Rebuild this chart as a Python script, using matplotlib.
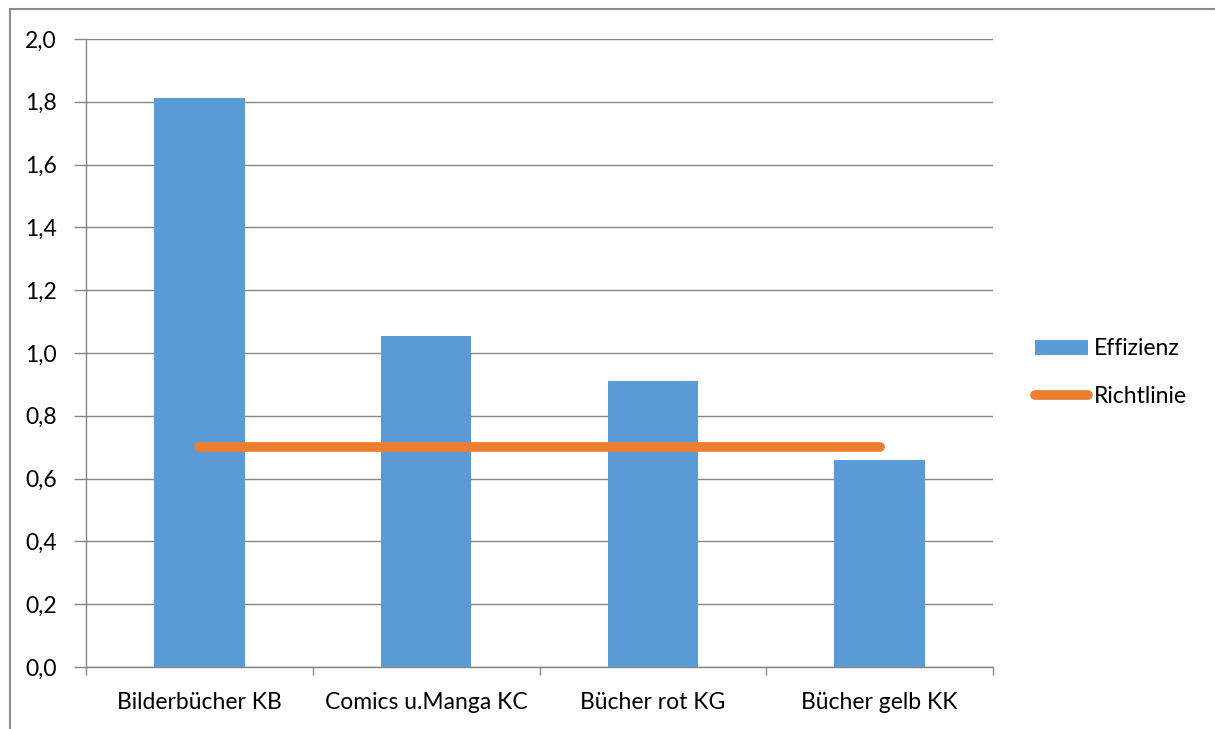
import matplotlib
matplotlib.use("Agg")
import matplotlib.pyplot as plt
from matplotlib.ticker import FuncFormatter, FixedLocator
from matplotlib.lines import Line2D

categories = ["Bilderbücher KB", "Comics u.Manga KC", "Bücher rot KG", "Bücher gelb KK"]
effizienz = [1.812, 1.054, 0.912, 0.659]
richtlinie = [0.70, 0.70, 0.70, 0.70]
y_ticks = [0.0, 0.2, 0.4, 0.6, 0.8, 1.0, 1.2, 1.4, 1.6, 1.8, 2.0]

plt.rcParams['font.family'] = ['Lato', 'DejaVu Sans']

W, H = 1215, 729
fig = plt.figure(figsize=(W / 100, H / 100), dpi=100)
ax = fig.add_axes([86 / W, (H - 667) / H, (993 - 86) / W, (667 - 39) / H])

grid_c = "#868686"
blue = "#5B9BD5"
orange = "#ED7D31"

x = list(range(len(categories)))
bars = ax.bar(x, effizienz, width=0.4, color=blue, label="Effizienz", zorder=3)
line, = ax.plot(x, richtlinie, color=orange, lw=7, solid_capstyle="round", label="Richtlinie", zorder=4)

ax.set_xlim(-0.5, len(categories) - 0.5)
ax.set_ylim(0, 2.0)
ax.yaxis.set_major_locator(FixedLocator(y_ticks))
ax.yaxis.set_major_formatter(FuncFormatter(lambda v, p: f"{v:.1f}".replace(".", ",")))
ax.grid(axis="y", color=grid_c, lw=1, zorder=0)
ax.tick_params(axis="y", length=9, color=grid_c, width=1, labelsize=16.5, pad=12, labelcolor="black")

ax.xaxis.set_major_locator(FixedLocator([i - 0.5 for i in range(len(categories) + 1)]))
ax.xaxis.set_major_formatter(FuncFormatter(lambda v, p: ""))
ax.xaxis.set_minor_locator(FixedLocator(x))
ax.set_xticklabels(categories, minor=True)
ax.tick_params(axis="x", which="major", length=6, color=grid_c, width=1)
ax.tick_params(axis="x", which="minor", length=0, labelsize=16.5, pad=18, labelcolor="black")

for s in ["top", "right"]:
    ax.spines[s].set_visible(False)
for s in ["left", "bottom"]:
    ax.spines[s].set_color(grid_c)
    ax.spines[s].set_linewidth(1)
ax.spines["left"].set_zorder(5)

leg = ax.legend([bars, line], ["Effizienz", "Richtlinie"], loc="center left",
                bbox_to_anchor=(1035 / W, 1 - 372.5 / H), bbox_transform=fig.transFigure,
                frameon=False, fontsize=16.5, handlelength=2.3, handleheight=0.6,
                handletextpad=0.25, labelspacing=1.15, borderpad=0, borderaxespad=0)

# outer chart border
fig.add_artist(Line2D([10 / W, 1], [1 - 9 / H, 1 - 9 / H], transform=fig.transFigure, color="#8c8c8c", lw=1.5))
fig.add_artist(Line2D([10 / W, 10 / W], [0, 1 - 9 / H], transform=fig.transFigure, color="#8c8c8c", lw=1.5))

fig.savefig("out.png", dpi=100)
